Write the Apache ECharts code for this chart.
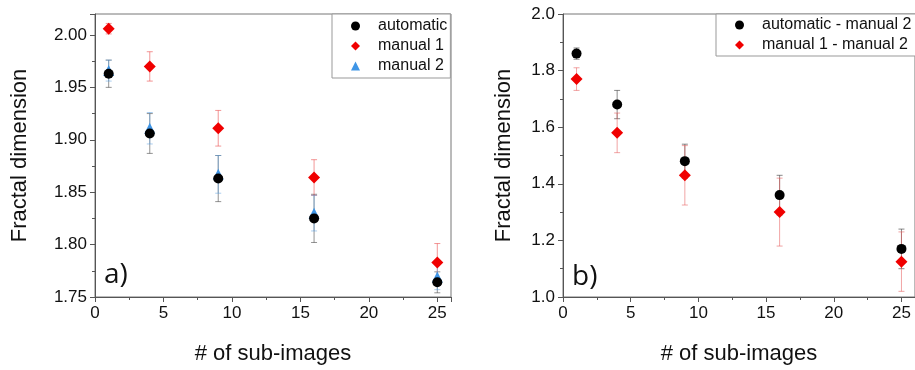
<!DOCTYPE html>
<html>
<head>
<meta charset="utf-8">
<script src="https://cdn.jsdelivr.net/npm/echarts@6/dist/echarts.min.js"></script>
<style>
  html, body { margin: 0; padding: 0; background: #fff; }
  #chart { width: 915px; height: 370px; }
</style>
</head>
<body>
<div id="chart"></div>
<script>
// sub-image counts
const subImages = [1, 4, 9, 16, 25];

// panel a) fractal dimension per method, with error
const automatic = [1.963, 1.906, 1.863, 1.825, 1.764];
const automaticErr = [0.013, 0.019, 0.022, 0.023, 0.010];
const manual1 = [2.006, 1.970, 1.911, 1.864, 1.783];
const manual1Err = [0.005, 0.014, 0.017, 0.017, 0.018];
const manual2 = [1.966, 1.911, 1.867, 1.830, 1.769];
const manual2Err = [0.010, 0.015, 0.018, 0.017, 0.012];

// panel b) differences
const autoMinusM2 = [1.86, 1.68, 1.48, 1.36, 1.17];
const autoMinusM2Err = [0.02, 0.05, 0.06, 0.07, 0.07];
const m1MinusM2 = [1.77, 1.58, 1.43, 1.30, 1.125];
const m1MinusM2Err = [0.04, 0.07, 0.105, 0.12, 0.105];

const font = "Liberation Sans";
const panelFont = "Open Sans";

const points = (vals) => subImages.map((x, i) => [x, vals[i]]);
const errPoints = (vals, errs) => subImages.map((x, i) => [x, vals[i], errs[i]]);

const errRender = (color) => (params, api) => {
  const x = api.value(0), y = api.value(1), e = api.value(2);
  const top = api.coord([x, y + e]);
  const bot = api.coord([x, y - e]);
  const hw = 3;
  const style = { stroke: color, lineWidth: 1 };
  return {
    type: "group",
    children: [
      { type: "line", shape: { x1: top[0], y1: top[1], x2: bot[0], y2: bot[1] }, style },
      { type: "line", shape: { x1: top[0] - hw, y1: top[1], x2: top[0] + hw, y2: top[1] }, style },
      { type: "line", shape: { x1: bot[0] - hw, y1: bot[1], x2: bot[0] + hw, y2: bot[1] }, style },
    ],
  };
};

const xAxisBase = (gridIndex) => ({
  gridIndex,
  type: "value",
  min: 0,
  max: 26,
  interval: 5,
  name: "# of sub-images",
  nameLocation: "middle",
  nameGap: 46,
  nameTextStyle: { fontFamily: font, fontSize: 22, color: "#111" },
  axisLine: { lineStyle: { color: "#555" } },
  axisTick: { show: true, inside: false, length: 5, lineStyle: { color: "#555" } },
  minorTick: { show: true, splitNumber: 2, length: 3, lineStyle: { color: "#555" } },
  axisLabel: { fontFamily: font, fontSize: 17, color: "#111", margin: 8, showMaxLabel: false },
  splitLine: { show: false },
});

const yAxisBase = (gridIndex, min, max, interval, digits, nameGap) => ({
  gridIndex,
  type: "value",
  min,
  max,
  interval,
  name: "Fractal dimension",
  nameLocation: "middle",
  nameGap,
  nameTextStyle: { fontFamily: font, fontSize: 22, color: "#111" },
  axisLine: { show: true, lineStyle: { color: "#555" } },
  axisTick: { show: true, inside: false, length: 5, lineStyle: { color: "#555" } },
  minorTick: { show: true, splitNumber: 2, length: 3, lineStyle: { color: "#555" } },
  axisLabel: {
    fontFamily: font, fontSize: 17, color: "#111", margin: 8,
    showMaxLabel: digits === 1,
    formatter: (v) => v.toFixed(digits),
  },
  splitLine: { show: false },
});

const legendBase = {
  orient: "vertical",
  backgroundColor: "#fff",
  borderColor: "#999",
  borderWidth: 1,
  borderRadius: 0,
  itemWidth: 9,
  itemHeight: 9,
  itemGap: 4,
  textStyle: { fontFamily: font, fontSize: 16, color: "#111", padding: [0, 0, 0, 13] },
};

const chart = echarts.init(document.getElementById("chart"));
chart.setOption({
  animation: false,
  grid: [
    { left: 95, top: 14, width: 356, height: 286, show: true, borderColor: "#777", borderWidth: 1 },
    { left: 563, top: 14, width: 356, height: 286, show: true, borderColor: "#777", borderWidth: 1 },
  ],
  xAxis: [xAxisBase(0), xAxisBase(1)],
  yAxis: [
    yAxisBase(0, 1.75, 2.02, 0.05, 2, 64),
    yAxisBase(1, 1.0, 2.0, 0.2, 1, 48),
  ],
  legend: [
    {
      ...legendBase,
      left: 332,
      top: 14,
      padding: [4, 3, 4, 19],
      data: ["automatic", "manual 1", "manual 2"],
    },
    {
      ...legendBase,
      left: 716,
      top: 14,
      padding: [3, 20, 3, 19],
      data: ["automatic - manual 2", "manual 1 - manual 2"],
    },
  ],
  graphic: [
    { type: "text", left: 104, top: 261, style: { text: "a)", fontFamily: panelFont, fontSize: 28, fill: "#111" } },
    { type: "text", left: 572, top: 263, style: { text: "b)", fontFamily: panelFont, fontSize: 28, fill: "#111" } },
  ],
  series: [
    // error bars, panel a
    { type: "custom", xAxisIndex: 0, yAxisIndex: 0, z: 1, silent: true, renderItem: errRender("rgba(60,60,60,0.55)"), data: errPoints(automatic, automaticErr) },
    { type: "custom", xAxisIndex: 0, yAxisIndex: 0, z: 1, silent: true, renderItem: errRender("rgba(235,80,80,0.6)"), data: errPoints(manual1, manual1Err) },
    { type: "custom", xAxisIndex: 0, yAxisIndex: 0, z: 1, silent: true, renderItem: errRender("rgba(90,160,225,0.5)"), data: errPoints(manual2, manual2Err) },
    // markers, panel a
    { name: "automatic", type: "scatter", xAxisIndex: 0, yAxisIndex: 0, z: 3, symbol: "circle", symbolSize: 10, itemStyle: { color: "#000", opacity: 1 }, data: points(automatic) },
    { name: "manual 1", type: "scatter", xAxisIndex: 0, yAxisIndex: 0, z: 4, symbol: "diamond", symbolSize: 12, itemStyle: { color: "#f00000", opacity: 1 }, data: points(manual1) },
    { name: "manual 2", type: "scatter", xAxisIndex: 0, yAxisIndex: 0, z: 2, symbol: "triangle", symbolSize: 11, itemStyle: { color: "#3f95e6", opacity: 1 }, data: points(manual2) },
    // panel b
    { type: "custom", xAxisIndex: 1, yAxisIndex: 1, z: 1, silent: true, renderItem: errRender("rgba(60,60,60,0.6)"), data: errPoints(autoMinusM2, autoMinusM2Err) },
    { type: "custom", xAxisIndex: 1, yAxisIndex: 1, z: 1, silent: true, renderItem: errRender("rgba(230,90,90,0.55)"), data: errPoints(m1MinusM2, m1MinusM2Err) },
    { name: "automatic - manual 2", type: "scatter", xAxisIndex: 1, yAxisIndex: 1, z: 3, symbol: "circle", symbolSize: 10, itemStyle: { color: "#000", opacity: 1 }, data: points(autoMinusM2) },
    { name: "manual 1 - manual 2", type: "scatter", xAxisIndex: 1, yAxisIndex: 1, z: 4, symbol: "diamond", symbolSize: 12, itemStyle: { color: "#f00000", opacity: 1 }, data: points(m1MinusM2) },
  ],
});
</script>
</body>
</html>
